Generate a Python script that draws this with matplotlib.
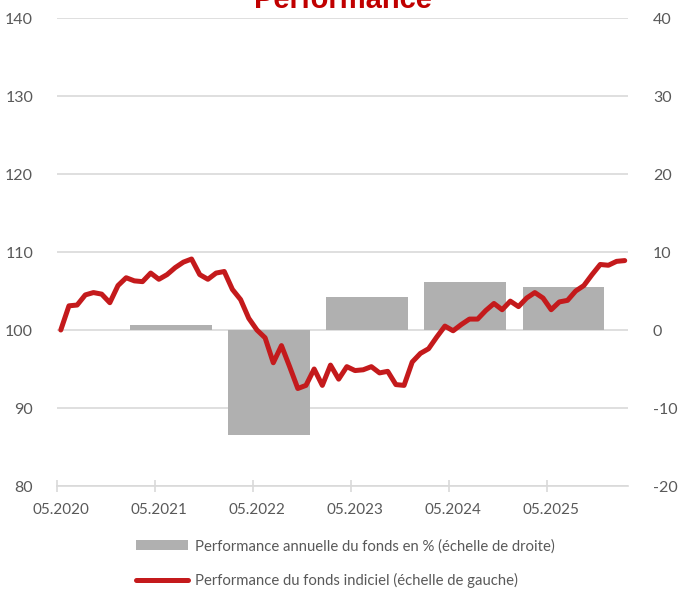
import numpy as np
import matplotlib.pyplot as plt
from matplotlib.patches import Patch
from matplotlib.lines import Line2D

# monthly index level, starting 05.2020 = 100
index_level = [
    100.0, 103.1, 103.2, 104.5, 104.8, 104.6, 103.5, 105.7, 106.7, 106.3,
    106.2, 107.3, 106.5, 107.1, 108.0, 108.7, 109.1, 107.1, 106.5, 107.3,
    107.5, 105.2, 103.9, 101.5, 100.0, 99.0, 95.8, 98.0, 95.3, 92.5,
    92.9, 95.0, 92.9, 95.5, 93.7, 95.3, 94.8, 94.9, 95.3, 94.5,
    94.7, 93.0, 92.9, 95.9, 97.0, 97.6, 99.1, 100.5, 99.9, 100.7,
    101.4, 101.4, 102.5, 103.4, 102.6, 103.7, 103.0, 104.1, 104.8, 104.1,
    102.6, 103.6, 103.8, 105.0, 105.7, 107.1, 108.4, 108.3, 108.8, 108.9,
]

# annual fund performance in %
bar_years = [2021, 2022, 2023, 2024, 2025]
annual_perf = [0.7, -13.5, 4.2, 6.2, 5.5]

tick_labels = ["05.2020", "05.2021", "05.2022", "05.2023", "05.2024", "05.2025"]

red = '#C41A1C'
grey_bar = '#B0B0B0'
grid_col = '#D9D9D9'
txt_col = '#595959'

plt.rcParams['font.family'] = ['Lato', 'DejaVu Sans']
plt.rcParams['axes.unicode_minus'] = False

fig = plt.figure(figsize=(6.85, 5.9), dpi=100)
ax = fig.add_axes([56.7 / 685, 1 - 486 / 590, (628 - 56.7) / 685, (486 - 18) / 590])
ax2 = ax.twinx()

months = np.arange(len(index_level))

# bars on the right axis (centered mid-year, ~10 months wide)
bar_x = [(y - 2020) * 12 + 1.5 for y in bar_years]
ax2.bar(bar_x, annual_perf, width=10, color=grey_bar, zorder=2)
ax2.set_ylim(-20, 40)
ax2.set_yticks(np.arange(-20, 41, 10))
ax2.yaxis.grid(True, color=grid_col, linewidth=1.2, zorder=0)
ax2.set_axisbelow(True)

# line on the left axis, drawn on top
ax.set_zorder(ax2.get_zorder() + 1)
ax.patch.set_visible(False)
ax.plot(months, index_level, color=red, linewidth=3.6, solid_capstyle='round',
        solid_joinstyle='round')
ax.set_ylim(80, 140)
ax.set_yticks(np.arange(80, 141, 10))
ax.set_xlim(-0.5, 69.4)

ax.set_xticks(np.arange(len(tick_labels)) * 12)
ax.set_xticklabels(tick_labels)
ax.set_xticks(np.arange(len(tick_labels)) * 12 - 0.5, minor=True)
ax.tick_params(axis='x', which='major', length=0, pad=12, labelsize=11, labelcolor=txt_col)
ax.tick_params(axis='x', which='minor', length=9, direction='inout', color=grid_col, width=1.2)

ax.tick_params(axis='y', length=0, pad=17, labelsize=11.5, labelcolor=txt_col)
ax2.tick_params(axis='y', length=0, pad=18, labelsize=11.5, labelcolor=txt_col)

for a in (ax, ax2):
    for s in a.spines.values():
        s.set_visible(False)
ax.spines['bottom'].set_visible(True)
ax.spines['bottom'].set_color(grid_col)
ax.spines['bottom'].set_linewidth(1.2)

fig.text(0.5, 1 - 8.5 / 590, "Performance", ha='center', va='baseline',
         color='#C00000', fontsize=21, fontweight='bold',
         family=['Liberation Sans Narrow', 'Liberation Sans', 'DejaVu Sans'])

handles = [Patch(facecolor=grey_bar, edgecolor='none'),
           Line2D([0], [0], color=red, linewidth=3.6, solid_capstyle='round')]
labels = ["Performance annuelle du fonds en % (échelle de droite)",
          "Performance du fonds indiciel (échelle de gauche)"]
fig.legend(handles, labels, loc='upper left', bbox_to_anchor=(136 / 685, 1 - 539 / 590),
           frameon=False, fontsize=10.7, handlelength=3.5, handleheight=0.6,
           handletextpad=0.45, labelspacing=1.35, borderpad=0, borderaxespad=0,
           labelcolor=txt_col)

fig.savefig('out.png', dpi=100)
